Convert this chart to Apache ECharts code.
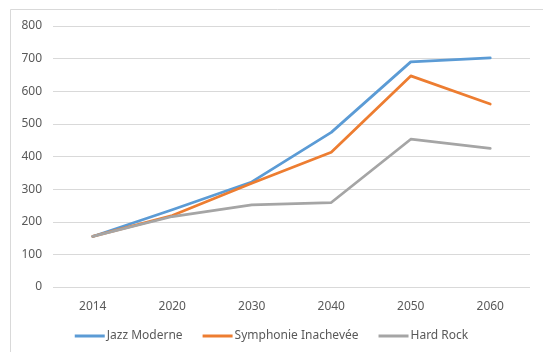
<!DOCTYPE html>
<html>
<head>
<meta charset="utf-8">
<script src="https://cdn.jsdelivr.net/npm/echarts@6/dist/echarts.min.js"></script>
<style>
  html, body { margin: 0; padding: 0; background: #fff; }
  #chart { width: 543px; height: 352px; }
</style>
</head>
<body>
<div id="chart"></div>
<script>
// Years on the horizontal axis
const years = ['2014', '2020', '2030', '2040', '2050', '2060'];

// One list of values per series
const jazzModerne = [155, 237, 322, 474, 690, 702];
const symphonieInachevee = [155, 219, 318, 413, 647, 561];
const hardRock = [155, 216, 252, 259, 453, 425];

const seriesNames = ['Jazz Moderne', 'Symphonie Inachevée', 'Hard Rock'];
const seriesColors = ['#5B9BD5', '#ED7D31', '#A5A5A5'];
const seriesValues = [jazzModerne, symphonieInachevee, hardRock];

const textColor = '#595959';
const fontFamily = '"Noto Sans", "Open Sans", sans-serif';

const chart = echarts.init(document.getElementById('chart'), null, { renderer: 'canvas' });

chart.setOption({
  animation: false,
  backgroundColor: '#fff',
  textStyle: { fontFamily: fontFamily, color: textColor },
  graphic: [{
    type: 'rect',
    shape: { x: 10.5, y: 9.5, width: 600, height: 400 },
    style: { fill: 'none', stroke: '#d9d9d9', lineWidth: 1 },
    silent: true
  }],
  grid: { left: 53, right: 13, top: 26, bottom: 65, containLabel: false },
  legend: {
    bottom: 5,
    left: 'center',
    icon: 'rect',
    itemWidth: 30,
    itemHeight: 3,
    itemGap: 20,
    textStyle: { color: textColor, fontSize: 12, fontFamily: fontFamily, padding: [0, 0, 0, -3] },
    data: seriesNames
  },
  xAxis: {
    type: 'category',
    data: years,
    boundaryGap: true,
    axisLine: { show: false },
    axisTick: { show: false },
    axisLabel: { color: textColor, fontSize: 12, margin: 14, fontFamily: fontFamily }
  },
  yAxis: {
    type: 'value',
    min: 0,
    max: 800,
    interval: 100,
    axisLine: { show: false },
    axisTick: { show: false },
    axisLabel: { color: textColor, fontSize: 12, margin: 11, fontFamily: fontFamily },
    splitLine: { lineStyle: { color: '#d9d9d9', width: 1 } }
  },
  series: seriesNames.map((name, i) => ({
    name: name,
    type: 'line',
    data: seriesValues[i],
    symbol: 'none',
    color: seriesColors[i],
    lineStyle: { width: 2.75, color: seriesColors[i], cap: 'round', join: 'round' }
  }))
});
</script>
</body>
</html>
